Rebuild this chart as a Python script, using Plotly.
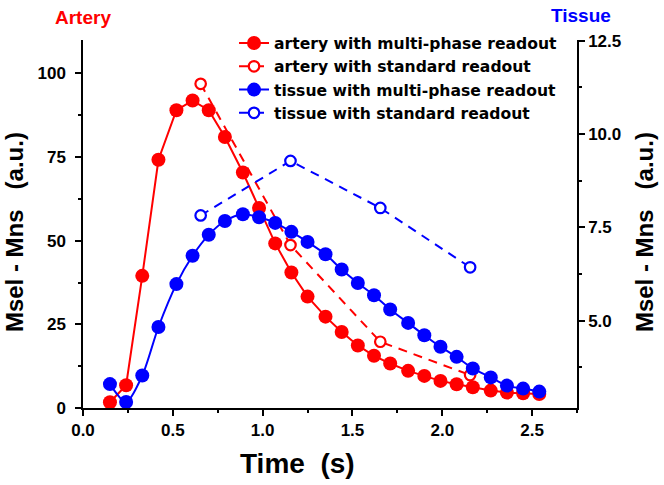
import plotly.graph_objects as go

# ---- data ----
time_multi = [0.15, 0.24, 0.33, 0.42, 0.52, 0.61, 0.70, 0.79, 0.89, 0.98, 1.07, 1.16, 1.25, 1.35,
              1.44, 1.53, 1.62, 1.71, 1.81, 1.90, 1.99, 2.08, 2.17, 2.27, 2.36, 2.45, 2.54]
artery_multi = [1.7, 6.8, 39.5, 74.2, 89.0, 91.9, 89.0, 81.0, 70.4, 59.8, 49.2, 40.5, 33.3, 27.3,
                22.7, 18.7, 15.6, 13.3, 11.1, 9.6, 8.1, 7.1, 6.2, 5.2, 4.6, 4.4, 4.2]
tissue_multi = [3.30, 2.82, 3.53, 4.83, 5.98, 6.74, 7.30, 7.67, 7.85, 7.77, 7.62, 7.38, 7.11, 6.78,
                6.37, 6.01, 5.68, 5.30, 4.94, 4.61, 4.30, 4.03, 3.72, 3.48, 3.26, 3.18, 3.10]
time_std = [0.655, 1.155, 1.655, 2.155]
artery_std = [96.9, 48.7, 19.8, 9.85]
tissue_std = [7.82, 9.28, 8.02, 6.43]

RED = "#ff0000"
BLUE = "#0000ff"
FONT = "Liberation Sans, Arial, sans-serif"
LEGFONT = "DejaVu Sans, sans-serif"

fig = go.Figure()
fig.add_trace(go.Scatter(x=time_multi, y=artery_multi, name="artery with multi-phase readout",
                         mode="lines+markers", line=dict(color=RED, width=2),
                         marker=dict(color=RED, size=14, symbol="circle")))
fig.add_trace(go.Scatter(x=time_std, y=artery_std, name="artery with standard readout",
                         mode="lines+markers", line=dict(color=RED, width=2, dash="9px,7px"),
                         marker=dict(color="white", size=10.5, symbol="circle",
                                     line=dict(color=RED, width=2.2))))
fig.add_trace(go.Scatter(x=time_multi, y=tissue_multi, name="tissue with multi-phase readout",
                         mode="lines+markers", yaxis="y2",
                         line=dict(color=BLUE, width=2, shape="spline", smoothing=0.8),
                         marker=dict(color=BLUE, size=14, symbol="circle")))
fig.add_trace(go.Scatter(x=time_std, y=tissue_std, name="tissue with standard readout",
                         mode="lines+markers", yaxis="y2",
                         line=dict(color=BLUE, width=2, dash="9px,7px"),
                         marker=dict(color="white", size=10.5, symbol="circle",
                                     line=dict(color=BLUE, width=2.2))))

tickfont = dict(family=FONT, size=17, color="black", weight="bold")
axis_common = dict(showline=True, linecolor="black", linewidth=1.5, ticks="outside",
                   ticklen=6, tickwidth=1.5, tickcolor="black", showgrid=False, zeroline=False,
                   tickfont=tickfont)
minor_common = dict(ticks="outside", ticklen=3.5, tickcolor="black", tickwidth=1.5)

fig.update_layout(
    width=664, height=485,
    margin=dict(l=83, r=87, t=40, b=77),
    paper_bgcolor="white", plot_bgcolor="white",
    font=dict(family=FONT, color="black"),
    xaxis=dict(range=[0, 2.75], tick0=0, dtick=0.5, tickformat=".1f",
               minor=dict(dtick=0.25, **minor_common), **axis_common),
    yaxis=dict(range=[0, 110], tick0=0, dtick=25, ticklabelstandoff=6,
               minor=dict(dtick=12.5, **minor_common), **axis_common),
    yaxis2=dict(range=[2.66, 12.52], tick0=0, dtick=2.5, tickformat=".1f", overlaying="y",
                side="right", minor=dict(dtick=1.25, **minor_common), **axis_common),
    legend=dict(x=0.3057, y=1.037, xanchor="left", yanchor="top", bgcolor="rgba(0,0,0,0)",
                font=dict(family=LEGFONT, size=15.6, color="black", weight="bold"),
                tracegroupgap=0),
    showlegend=True,
)

annotations = [
    dict(text="Artery", x=0.0, y=1.0625, xref="paper", yref="paper", showarrow=False,
         xanchor="center", yanchor="middle",
         font=dict(family=FONT, size=19, color=RED, weight="bold")),
    dict(text="Tissue", x=1.008, y=1.0666, xref="paper", yref="paper", showarrow=False,
         xanchor="center", yanchor="middle",
         font=dict(family=FONT, size=19, color=BLUE, weight="bold")),
    dict(text="Time  (s)", x=0.434, y=-0.1495, xref="paper", yref="paper", showarrow=False,
         xanchor="center", yanchor="middle",
         font=dict(family=FONT, size=28, color="black", weight="bold")),
    dict(text="Msel - Mns   (a.u.)", x=-0.1397, y=0.478, xref="paper", yref="paper",
         showarrow=False, textangle=-90, xanchor="center", yanchor="middle",
         font=dict(family=FONT, size=24, color="black", weight="bold")),
    dict(text="Msel - Mns   (a.u.)", x=1.1356, y=0.478, xref="paper", yref="paper",
         showarrow=False, textangle=-90, xanchor="center", yanchor="middle",
         font=dict(family=FONT, size=24, color="black", weight="bold")),
]
fig.update_layout(annotations=annotations)

fig.write_html("out.html", config={"displayModeBar": False},
               post_script="document.body.style.margin='0px';")
